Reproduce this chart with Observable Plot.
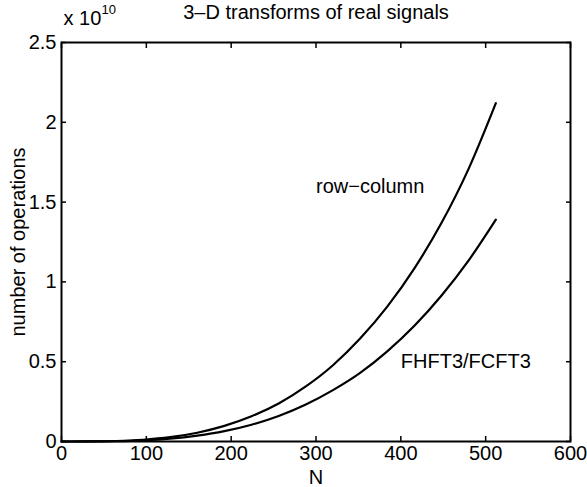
<!DOCTYPE html>
<html>
<head>
<meta charset="utf-8">
<script src="https://cdn.jsdelivr.net/npm/d3@7"></script>
<script src="https://cdn.jsdelivr.net/npm/@observablehq/plot@0.6"></script>
<style>
  html, body { margin: 0; padding: 0; background: #fff; }
  svg text { font-family: "Liberation Sans", Arial, Helvetica, sans-serif; }
</style>
</head>
<body>
<div id="chart"></div>
<script>
// ---- data ----
const N = [0, 32, 64, 96, 128, 160, 192, 224, 256, 288, 320, 352, 384, 416, 448, 480, 512];
const rowColumn = [0, 0.0003e10, 0.003e10, 0.011e10, 0.027e10, 0.055e10, 0.098e10, 0.158e10, 0.238e10, 0.345e10, 0.478e10, 0.645e10, 0.845e10, 1.085e10, 1.37e10, 1.71e10, 2.12e10];
const fhft3 = [0, 0.0002e10, 0.002e10, 0.0072e10, 0.018e10, 0.037e10, 0.065e10, 0.105e10, 0.16e10, 0.232e10, 0.322e10, 0.43e10, 0.565e10, 0.725e10, 0.915e10, 1.135e10, 1.39e10];
const seriesNames = ["row\u2212column", "FHFT3/FCFT3"];
const labelX = [300, 400];
const labelY = [1.6e10, 0.5e10];
const xTicks = [0, 100, 200, 300, 400, 500, 600];
const yTicks = [0, 0.5e10, 1e10, 1.5e10, 2e10, 2.5e10];
const yTickLabels = ["0", "0.5", "1", "1.5", "2", "2.5"];
const title = "3\u2013D transforms of real signals";
const xLabel = "N";
const yLabel = "number of operations";

const rows = [];
N.forEach((n, i) => {
  rows.push({N: n, ops: rowColumn[i], series: seriesNames[0]});
  rows.push({N: n, ops: fhft3[i], series: seriesNames[1]});
});
const labels = seriesNames.map((s, i) => ({N: labelX[i], ops: labelY[i], text: s}));

const fs = 20;
const chart = Plot.plot({
  width: 587,
  height: 487,
  marginLeft: 61,
  marginRight: 17,
  marginTop: 42,
  marginBottom: 46,
  style: {fontFamily: '"Liberation Sans", Arial, Helvetica, sans-serif', fontSize: fs + "px", color: "black", background: "white"},
  x: {domain: [0, 600], ticks: xTicks},
  y: {domain: [0, 2.5e10], ticks: yTicks},
  marks: [
    Plot.axisX({anchor: "bottom", ticks: xTicks, tickSize: -5, tickPadding: 9, label: null, fontSize: fs, stroke: "black", strokeWidth: 1.5}),
    Plot.axisX({anchor: "top", ticks: xTicks, tickSize: -5, tickFormat: () => "", label: null, stroke: "black", strokeWidth: 1.5}),
    Plot.axisY({anchor: "left", ticks: yTicks, tickSize: -5, tickPadding: 10, tickFormat: (d, i) => yTickLabels[i], label: null, fontSize: fs, stroke: "black", strokeWidth: 1.5}),
    Plot.axisY({anchor: "right", ticks: yTicks, tickSize: -5, tickFormat: () => "", label: null, stroke: "black", strokeWidth: 1.5}),
    Plot.frame({stroke: "black", strokeWidth: 2}),
    Plot.line(rows, {x: "N", y: "ops", z: "series", stroke: "black", strokeWidth: 2.2, curve: "monotone-x"}),
    Plot.text(labels, {x: "N", y: "ops", text: "text", textAnchor: "start", fontSize: fs, fill: "black"}),
    Plot.text([title], {frameAnchor: "top", lineAnchor: "middle", textAnchor: "middle", dy: -30, fontSize: fs, fill: "black"}),
    Plot.text(["x 10"], {frameAnchor: "top-left", lineAnchor: "middle", dy: -24, dx: 2, textAnchor: "start", fontSize: fs, fill: "black"}),
    Plot.text(["10"], {frameAnchor: "top-left", lineAnchor: "middle", dy: -33, dx: 40, textAnchor: "start", fontSize: 13, fill: "black"}),
    Plot.text([xLabel], {frameAnchor: "bottom", lineAnchor: "middle", textAnchor: "middle", dy: 36, fontSize: fs, fill: "black"}),
    Plot.text([yLabel], {frameAnchor: "left", lineAnchor: "middle", textAnchor: "middle", dx: -43, rotate: -90, fontSize: fs, fill: "black"})
  ]
});
document.getElementById("chart").appendChild(chart);
</script>
</body>
</html>
